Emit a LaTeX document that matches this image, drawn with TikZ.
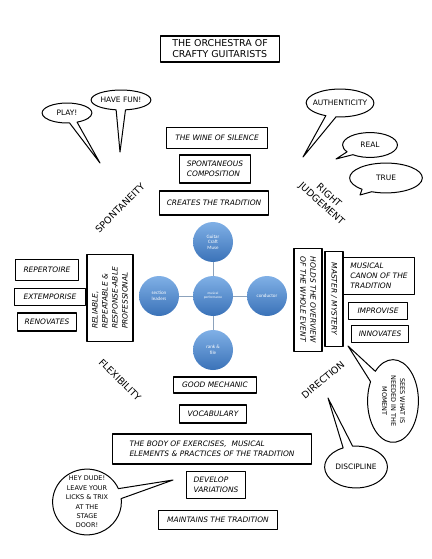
\documentclass[tikz,border=0pt]{standalone}
\usepackage{fontspec}
\setmainfont{DejaVu Sans}
\newfontfamily\smartfont{Carlito}
\usetikzlibrary{positioning,shapes.callouts}
\definecolor{museTop}{RGB}{128,176,230}
\definecolor{museBot}{RGB}{58,114,184}
\definecolor{museLine}{RGB}{140,162,188}

\begin{document}
\begin{tikzpicture}[x=1bp, y=-1bp, node distance=54bp, line join=round]
\tikzstyle{box}=[draw=black, line width=1.2bp, fill=white, align=left, inner sep=2pt, font=\fontsize{7.5}{10}\selectfont\itshape]
\tikzstyle{title}=[box, font=\fontsize{9.5}{11}\selectfont]
\tikzstyle{bubble}=[ellipse callout, draw=black, line width=1bp, fill=white, align=center, inner sep=0pt, callout pointer arc=18, font=\fontsize{7.5}{10}\selectfont]
\tikzstyle{word}=[align=center, font=\fontsize{9.5}{11}\selectfont]
\tikzstyle{smart}=[circle, minimum size=40bp, inner sep=0pt, top color=museTop, bottom color=museBot, text=white, align=center, font=\smartfont\fontsize{5}{5.5}\selectfont]
\useasboundingbox (0,0) rectangle (431,559);

% title
\node[title, minimum width=120pt, minimum height=26pt] (title) at (220,49) {THE ORCHESTRA OF\\CRAFTY GUITARISTS};

% the five roles
\node[smart, font=\smartfont\fontsize{3.5}{4}\selectfont] (perf) at (213,296) {musical\\performance};
\node[smart] (muse)    [above of=perf] {Guitar\\Craft\\Muse};
\node[smart] (leaders) [left of=perf]  {section\\leaders};
\node[smart] (cond)    [right of=perf] {conductor};
\node[smart] (rank)    [below of=perf] {rank \&\\file};

\path[draw=museLine, line width=0.8bp]
(perf) edge (muse)
       edge (leaders)
       edge (cond)
       edge (rank);

% top column
\node[box, minimum width=102pt, minimum height=21pt] (wine)        at (217,138) {THE WINE OF SILENCE};
\node[box, minimum width=72pt,  minimum height=28pt] (composition) at (215,169) {SPONTANEOUS\\COMPOSITION};
\node[box, minimum width=110pt, minimum height=24pt] (creates)     at (214,203) {CREATES THE TRADITION};

% left side
\node[box, minimum width=63pt, minimum height=21pt] (repertoire) at (47,270) {REPERTOIRE};
\node[box, minimum width=71pt, minimum height=17pt] (extemporise) at (50,297) {EXTEMPORISE};
\node[box, minimum width=60pt, minimum height=18pt] (renovates) at (47,322) {RENOVATES};
\node[box, rotate=90, minimum width=88pt, minimum height=46pt] (reliable) at (110,298) {RELIABLE,\\REPEATABLE \&\\RESPONSE-ABLE\\PROFESSIONAL};

% right side
\node[box, rotate=-90, minimum width=103pt, minimum height=28pt] (overview) at (308,300) {HOLDS THE OVERVIEW\\OF THE WHOLE EVENT};
\node[box, rotate=-90, minimum width=96pt, minimum height=18pt] (master) at (334,299) {MASTER / MYSTERY};
\node[box, minimum width=72pt, minimum height=37pt] (canon) at (379,276) {MUSICAL\\CANON OF THE\\TRADITION};
\node[box, minimum width=60pt, minimum height=17pt] (improvise) at (378,311) {IMPROVISE};
\node[box, minimum width=57pt, minimum height=17pt] (innovates) at (380,334) {INNOVATES};

% bottom column
\node[box, minimum width=84pt,  minimum height=16pt] (mechanic)   at (215,385) {GOOD MECHANIC};
\node[box, minimum width=67pt,  minimum height=18pt] (vocabulary) at (213,414) {VOCABULARY};
\node[box, minimum width=200pt, minimum height=30pt] (body)       at (212,449) {THE BODY OF EXERCISES, \ MUSICAL\\ELEMENTS \& PRACTICES OF THE TRADITION};
\node[box, minimum width=59pt,  minimum height=27pt] (develop)    at (216,485) {DEVELOP\\VARIATIONS};
\node[box, minimum width=119pt, minimum height=19pt] (maintains)  at (218,520) {MAINTAINS THE TRADITION};

% the four qualities
\node[word, rotate=45]  (spontaneity) at (120,208) {SPONTANEITY};
\node[word, rotate=-42] (judgement)   at (325,200) {RIGHT\\JUDGEMENT};
\node[word, rotate=-45] (flexibility) at (120,380) {FLEXIBILITY};
\node[word, rotate=40]  (direction)   at (323,380) {DIRECTION};

% speech bubbles
\coordinate (playTip) at (100,163);
\coordinate (funTip) at (120,152);
\coordinate (authTip) at (303,157);
\coordinate (realTip) at (336,159);
\coordinate (trueTip) at (360,195);
\coordinate (seesTip) at (348,346);
\coordinate (discTip) at (328,398);
\coordinate (dudeTip) at (173,480);

\node[bubble, minimum width=50pt, minimum height=20pt, callout absolute pointer={(playTip)}] (play) at (67,113) {PLAY!};
\node[bubble, minimum width=60pt, minimum height=20pt, callout absolute pointer={(funTip)}] (fun) at (121,100) {HAVE FUN!};
\node[bubble, minimum width=68pt, minimum height=28pt, inner xsep=-4pt, callout absolute pointer={(authTip)}] (auth) at (340,103) {AUTHENTICITY};
\node[bubble, minimum width=55pt, minimum height=25pt, callout absolute pointer={(realTip)}] (real) at (370,145) {REAL};
\node[bubble, minimum width=73pt, minimum height=30pt, callout absolute pointer={(trueTip)}] (true) at (386,178) {TRUE};
\node[bubble, minimum width=51pt, minimum height=83pt, font=\fontsize{6.5}{9}\selectfont, callout absolute pointer={(seesTip)}] (sees) at (393,401)
  {\rotatebox{-90}{\begin{tabular}{@{}c@{}}SEES WHAT IS\\NEEDED IN THE\\MOMENT\end{tabular}}};
\node[bubble, minimum width=63pt, minimum height=42pt, callout absolute pointer={(discTip)}] (discipline) at (356,467) {DISCIPLINE};
\node[bubble, minimum width=69pt, minimum height=66pt, inner sep=-5pt, font=\fontsize{6.5}{9.5}\selectfont, callout absolute pointer={(dudeTip)}] (dude) at (87,502)
  {HEY DUDE!\\LEAVE YOUR\\LICKS \& TRIX\\AT THE\\STAGE\\DOOR!};
\end{tikzpicture}
\end{document}
